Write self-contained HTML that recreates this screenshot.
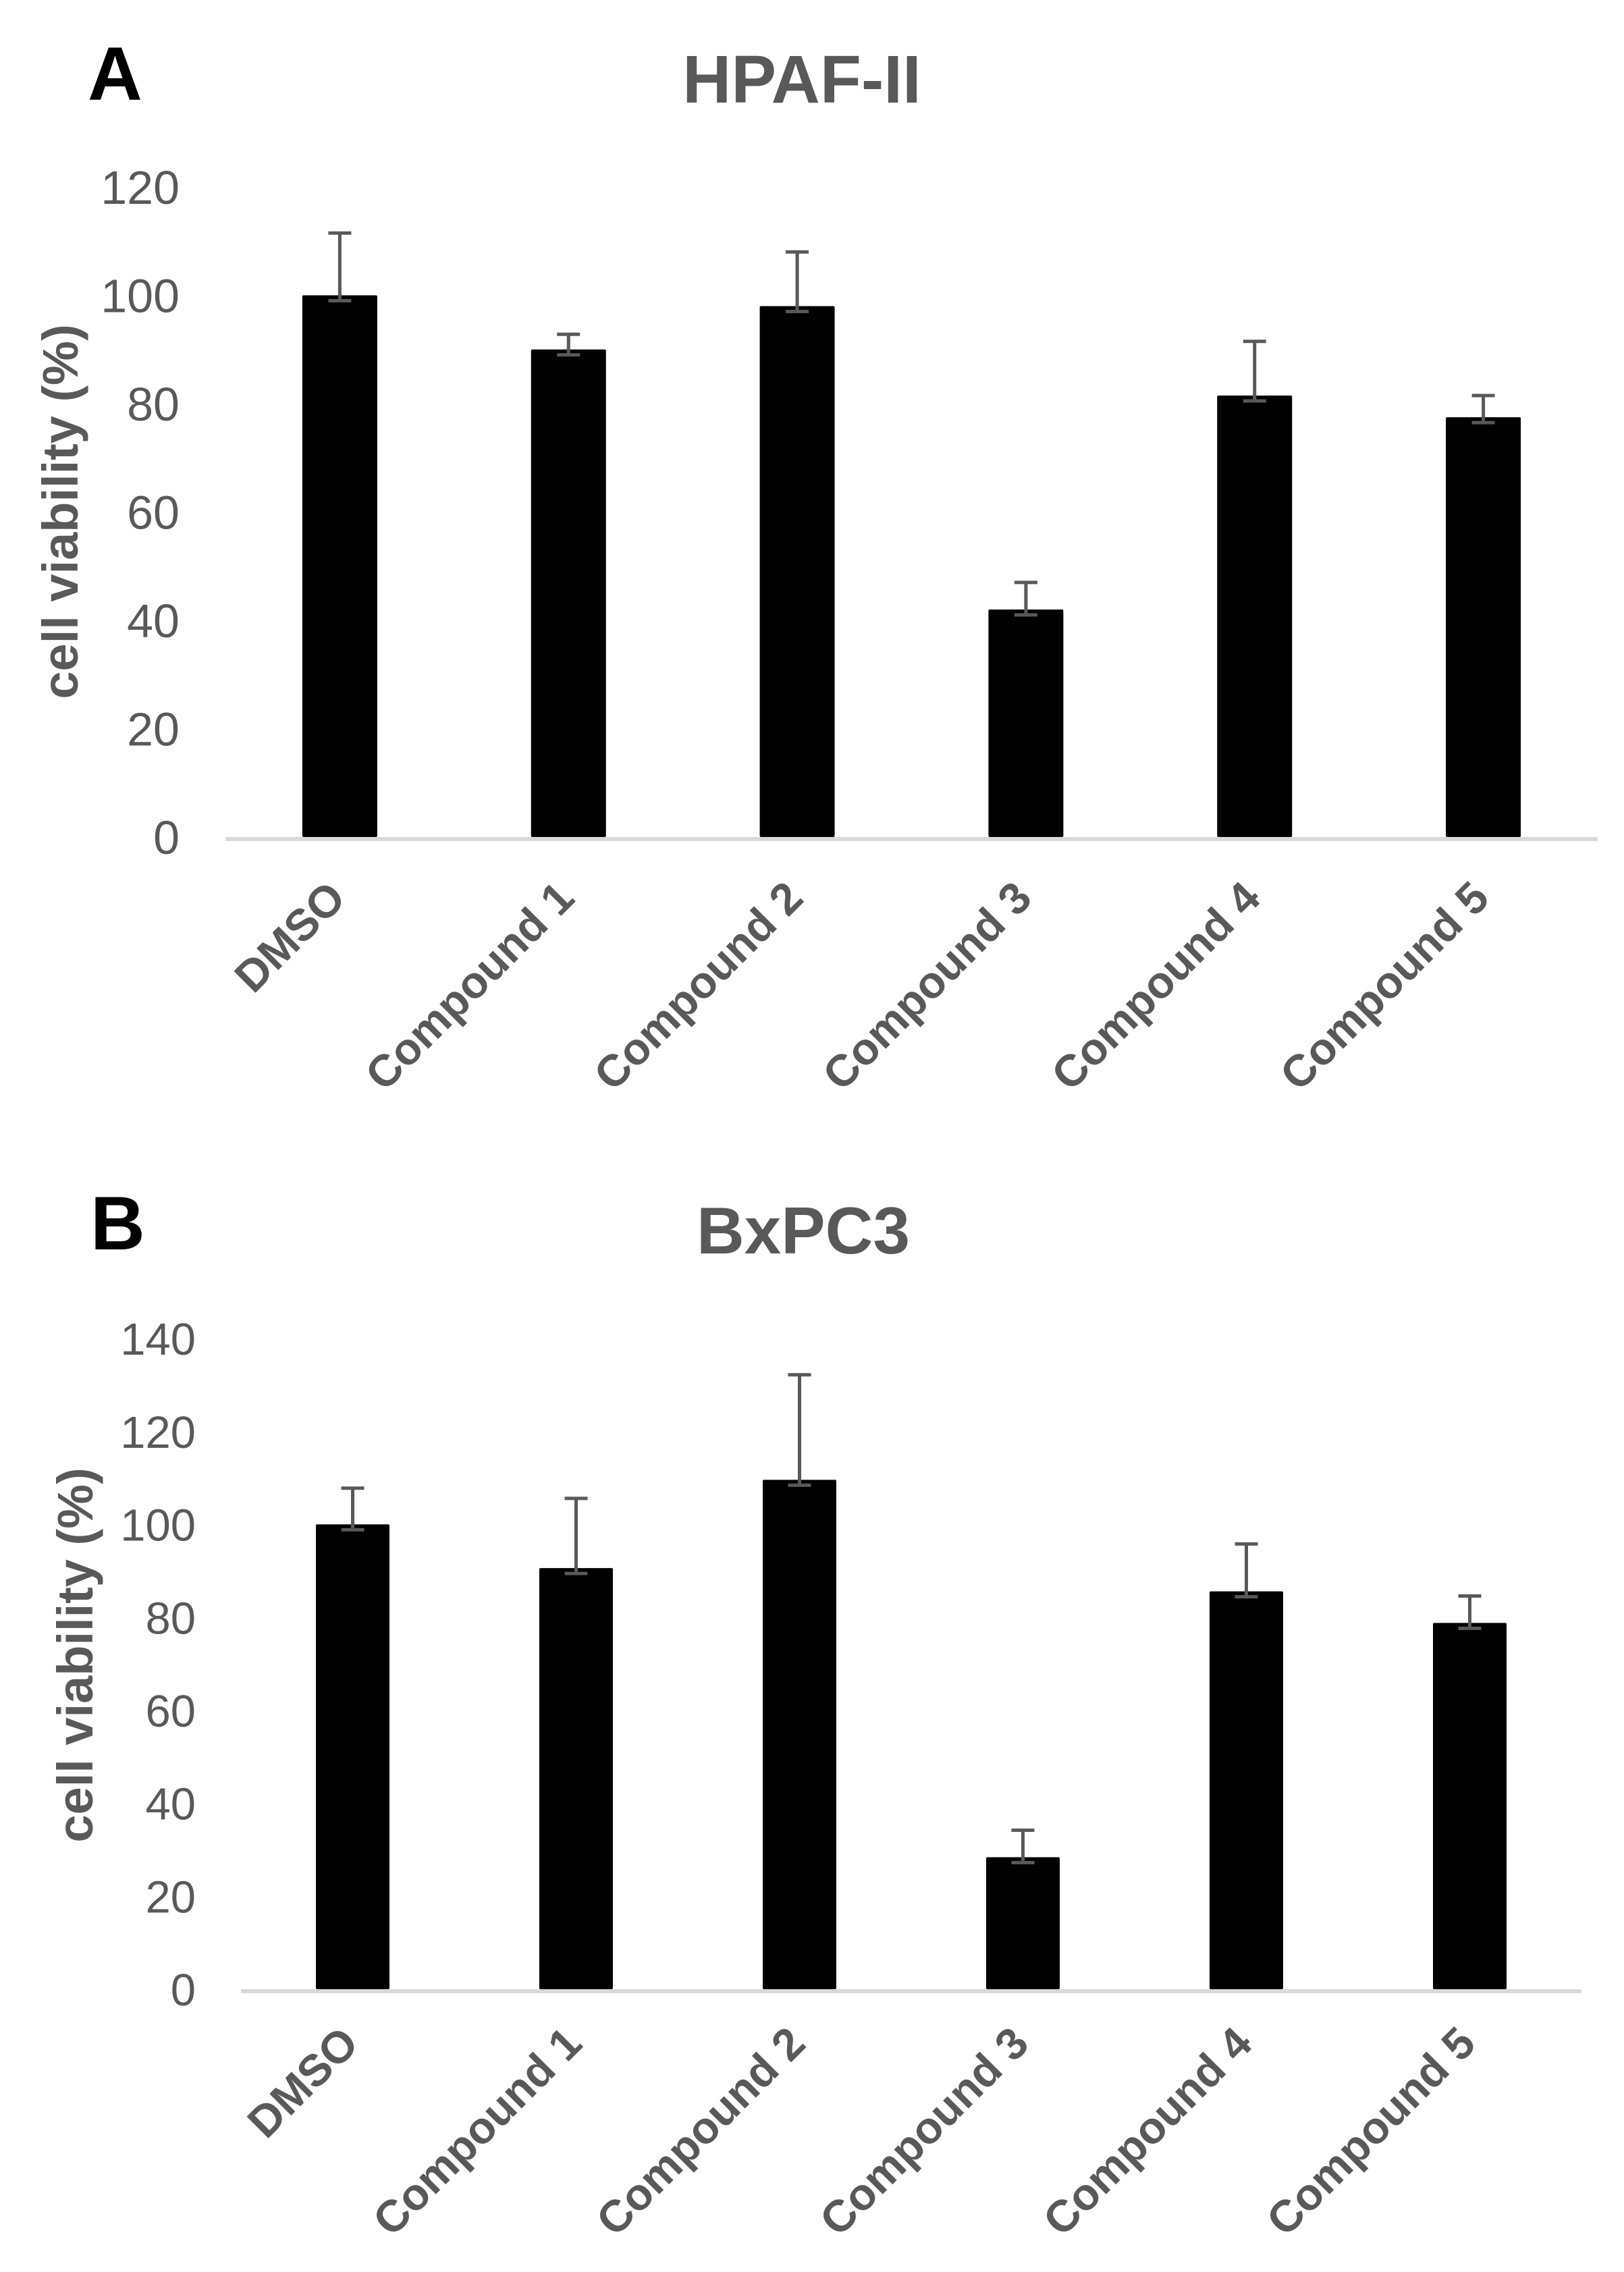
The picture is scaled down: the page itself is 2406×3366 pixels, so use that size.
<!DOCTYPE html>
<html><head><meta charset="utf-8">
<style>
html,body{margin:0;padding:0;background:#fff;}
svg{display:block;font-family:"Liberation Sans",Arial,sans-serif;}
</style></head>
<body>
<svg id="fig" width="2406" height="3366" viewBox="0 0 2406 3366" xmlns="http://www.w3.org/2000/svg">
  <rect width="2406" height="3366" fill="#fff"/>
  <text x="130" y="148" font-size="112" font-weight="bold" fill="#000">A</text>
  <text x="1188" y="152" font-size="100" font-weight="bold" fill="#595959" text-anchor="middle">HPAF-II</text>
  <text x="134" y="1851" font-size="112" font-weight="bold" fill="#000">B</text>
  <text x="1190" y="1857" font-size="98" font-weight="bold" fill="#595959" text-anchor="middle">BxPC3</text>
  <g id="chartA"></g>
  <g id="chartB"></g>
</svg>
<script>
const categories = ["DMSO","Compound 1","Compound 2","Compound 3","Compound 4","Compound 5"];
const valuesA = [100, 90, 98, 42, 81.5, 77.5];
const errorsA = [11.5, 2.8, 10, 5, 10, 4];
const ticksA = [0, 20, 40, 60, 80, 100, 120];
const valuesB = [100, 90.6, 109.6, 28.4, 85.6, 78.8];
const errorsB = [7.8, 15, 22.6, 5.8, 10.2, 5.8];
const ticksB = [0, 20, 40, 60, 80, 100, 120, 140];

const NS = "http://www.w3.org/2000/svg";
function mk(tag, attrs, parent){
  const e = document.createElementNS(NS, tag);
  for (const k in attrs) e.setAttribute(k, attrs[k]);
  parent.appendChild(e);
  return e;
}

function drawChart(g, cfg, values, errors, ticks){
  const yMax = ticks[ticks.length-1];
  const band = (cfg.right - cfg.left) / categories.length;
  const xc = i => cfg.left + band*(i+0.5);
  const y = v => cfg.zero - (cfg.zero - cfg.top) * v / yMax;

  ticks.forEach(t => {
    const tx = mk('text', {x: cfg.tickX, y: y(t) + cfg.tickFont*0.36, 'font-size': cfg.tickFont, fill: '#595959', 'text-anchor': 'end'}, g);
    
    
    tx.textContent = t;
  });

  const yt = mk('text', {x: 0, y: 0, 'font-size': cfg.titleFont, 'font-weight': 'bold', fill: '#595959', 'text-anchor': 'middle',
    transform: `translate(${cfg.yTitleX},${cfg.yTitleY}) rotate(-90)`}, g);
  
  
  yt.textContent = 'cell viability (%)';

  values.forEach((v, i) => {
    const cx = xc(i);
    const bar = mk('rect', {x: cx - cfg.barW/2, y: y(v), width: cfg.barW, height: cfg.zero - y(v), fill: '#000', rx: 2}, g);
    
    

    const eg = mk('g', {stroke: '#595959', 'stroke-width': 5, fill: 'none'}, g);
    
    
    const yTop = y(v + errors[i]);
    const yLow = y(v) + 8;
    mk('line', {x1: cx, x2: cx, y1: yTop, y2: yLow}, eg);
    mk('line', {x1: cx - 17, x2: cx + 17, y1: yTop, y2: yTop}, eg);
    mk('line', {x1: cx - 17, x2: cx + 17, y1: yLow, y2: yLow}, eg);

    const lx = cx + cfg.labelDx, ly = cfg.zero + cfg.labelDy;
    const lab = mk('text', {x: 0, y: 0, 'font-size': cfg.labelFont, 'font-weight': 'bold', fill: '#595959', 'text-anchor': 'end',
      transform: `translate(${lx},${ly}) rotate(-45)`}, g);
    
    
    lab.textContent = categories[i];
  });

  const ax = mk('line', {x1: cfg.left, x2: cfg.right, y1: cfg.zero + 3, y2: cfg.zero + 3, stroke: '#d9d9d9', 'stroke-width': 6}, g);
  
  
}

drawChart(document.getElementById('chartA'),
  {left: 334, right: 2367, zero: 1240, top: 277, barW: 111, tickX: 266, tickFont: 70,
   titleFont: 74, yTitleX: 115, yTitleY: 758, labelFont: 66, labelDx: 12, labelDy: 94},
  valuesA, errorsA, ticksA);

drawChart(document.getElementById('chartB'),
  {left: 357, right: 2343, zero: 2947, top: 1983, barW: 109, tickX: 290, tickFont: 67,
   titleFont: 74, yTitleX: 137, yTitleY: 2452, labelFont: 66, labelDx: 12, labelDy: 84},
  valuesB, errorsB, ticksB);
</script>
</body></html>
